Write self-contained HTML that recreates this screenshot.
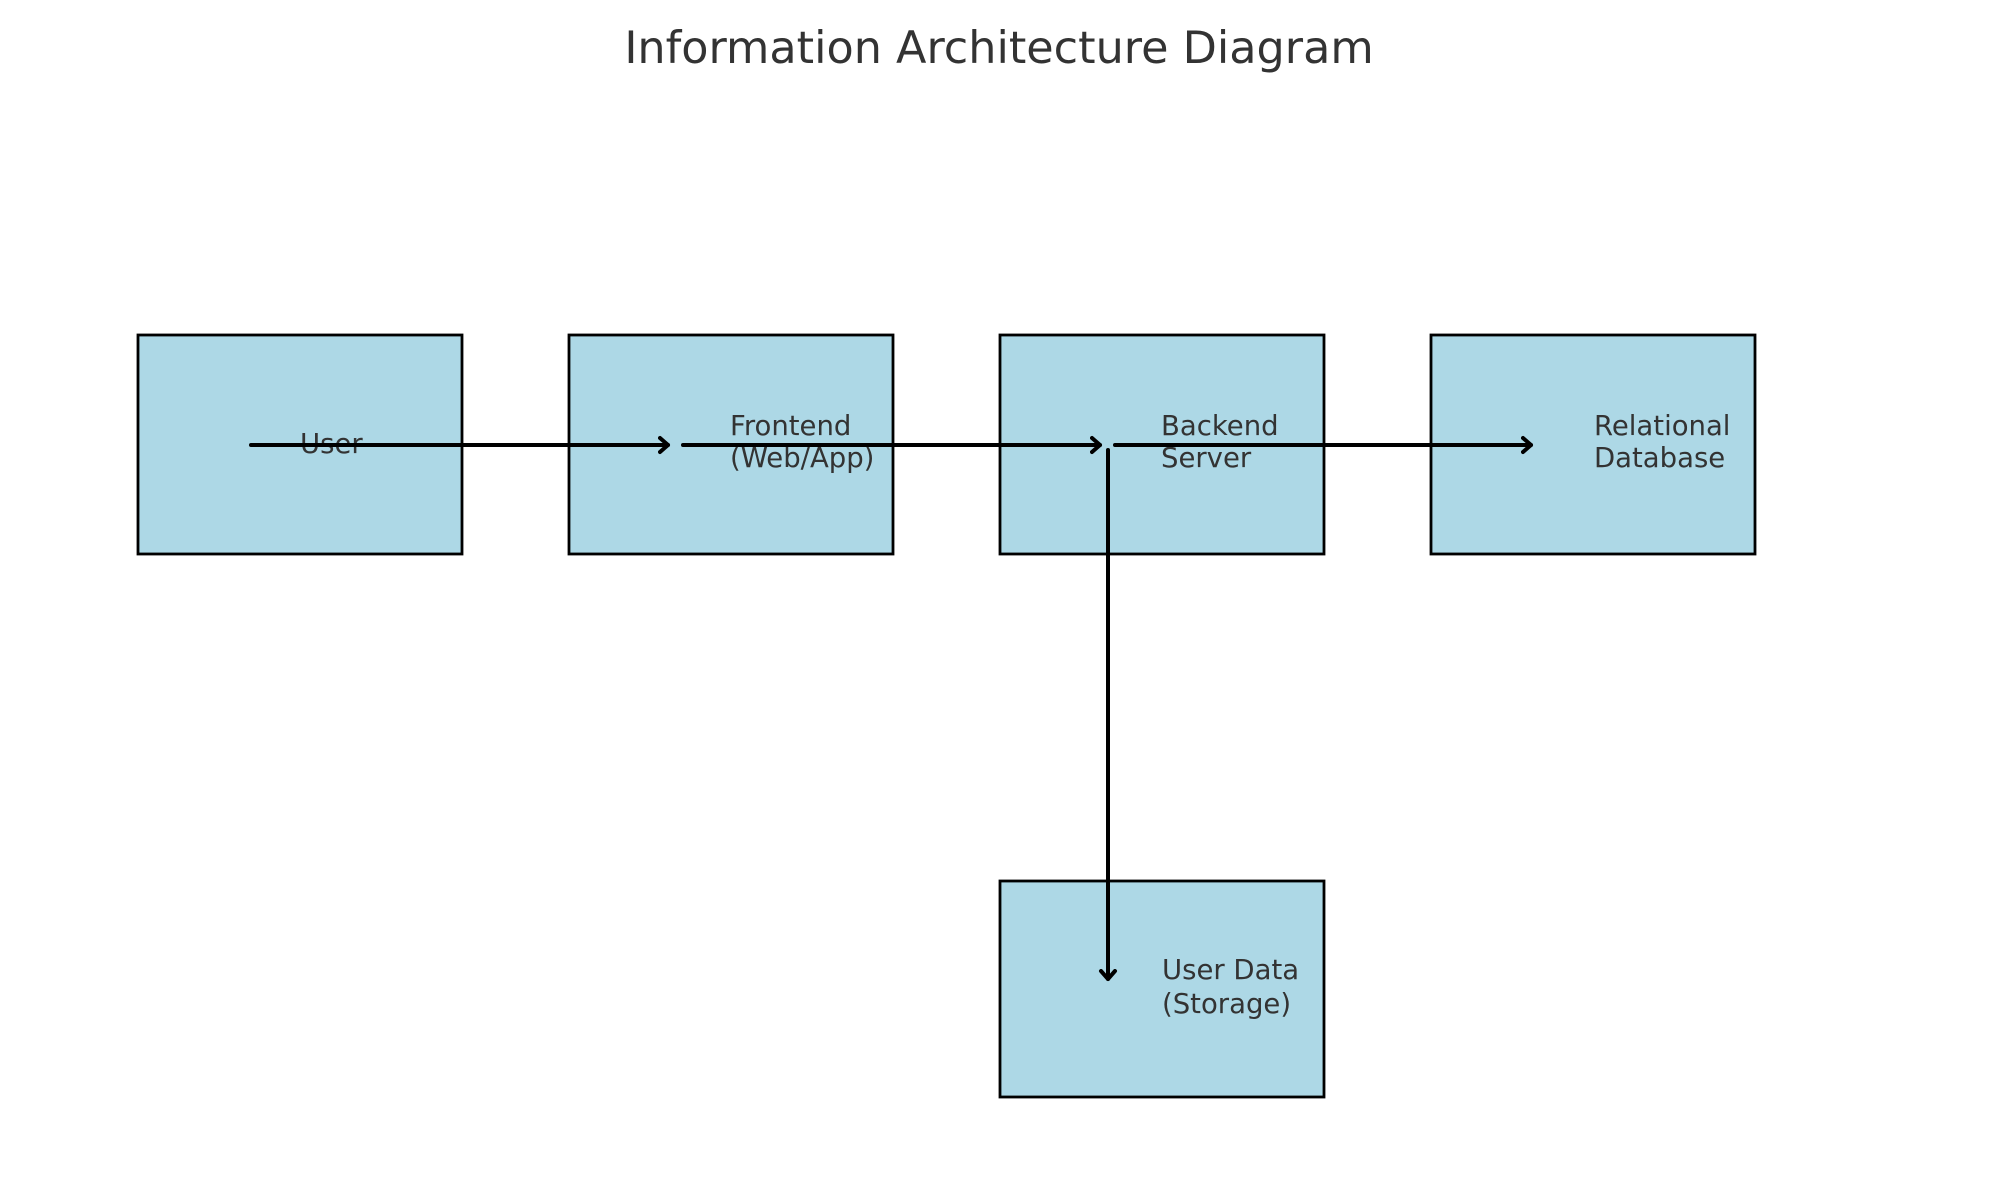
<!DOCTYPE html>
<html><head><meta charset="utf-8"><style>
html,body{margin:0;padding:0;background:#fff;}
svg{display:block;}
text{font-family:"DejaVu Sans","Liberation Sans",sans-serif;fill:#333;}
</style></head><body>
<svg width="2000" height="1200" viewBox="0 0 2000 1200" xmlns="http://www.w3.org/2000/svg">
<defs>
<marker id="a" markerWidth="20" markerHeight="20" refX="10" refY="10" orient="auto" markerUnits="userSpaceOnUse">
<path d="M2,3 L10,10 L2,17" fill="none" stroke="#000" stroke-width="4" stroke-linecap="round" stroke-linejoin="round"/>
</marker>
</defs>
<text x="999" y="63" font-size="44.5" text-anchor="middle">Information Architecture Diagram</text>
<g fill="#add8e6" stroke="#000" stroke-width="2.8">
<rect x="138" y="335" width="324" height="219"/>
<rect x="569" y="335" width="324" height="219"/>
<rect x="1000" y="335" width="324" height="219"/>
<rect x="1431" y="335" width="324" height="219"/>
<rect x="1000" y="881" width="324" height="216"/>
</g>
<g font-size="27.5">
<text x="300" y="453">User</text>
<text x="730" y="435">Frontend</text>
<text x="730" y="467">(Web/App)</text>
<text x="1161" y="435">Backend</text>
<text x="1161" y="467">Server</text>
<text x="1594" y="435">Relational</text>
<text x="1594" y="467">Database</text>
<text x="1162" y="979">User Data</text>
<text x="1162" y="1013">(Storage)</text>
</g>
<g stroke="#000" stroke-width="4" stroke-linecap="round" fill="none">
<line x1="251" y1="445" x2="668" y2="445" marker-end="url(#a)"/>
<line x1="683" y1="445" x2="1100" y2="445" marker-end="url(#a)"/>
<line x1="1115" y1="445" x2="1531" y2="445" marker-end="url(#a)"/>
<line x1="1108" y1="450" x2="1108" y2="979" marker-end="url(#a)"/>
</g>
</svg>
</body></html>
